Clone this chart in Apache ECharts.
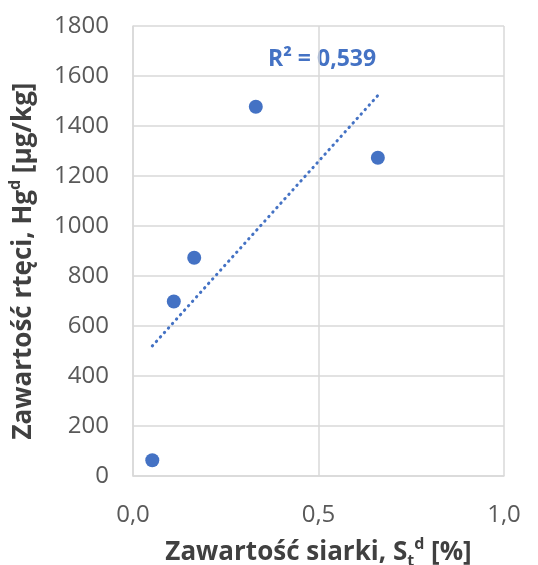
<!DOCTYPE html>
<html>
<head>
<meta charset="utf-8">
<script src="https://cdn.jsdelivr.net/npm/echarts@6/dist/echarts.min.js"></script>
<style>
  html, body { margin: 0; padding: 0; background: #fff; }
  #chartBox { width: 538px; height: 565px; }
</style>
</head>
<body>
<div id="chartBox"></div>
<script>
// sulphur content [%] vs mercury content [µg/kg]
var sulphur = [0.052, 0.11, 0.165, 0.331, 0.66];
var mercury = [63, 698, 873, 1477, 1273];
// linear trendline ends
var trendX = [0.052, 0.663];
var trendY = [520, 1527];
var rSquared = '0,539';

var blue = '#4472C4';
var gridColor = '#d9d9d9';
var fontName = '"Open Sans", "Liberation Sans", sans-serif';

function pairs(xs, ys) {
    var out = [];
    for (var i = 0; i < xs.length; i++) {
        out.push([xs[i], ys[i]]);
    }
    return out;
}

function bindScatter() {
    var chart = echarts.init(document.getElementById('chartBox'));
    var option = {
        animation: false,
        textStyle: { fontFamily: fontName },
        grid: { left: 133, right: 34, top: 26, bottom: 89, containLabel: false, outerBoundsMode: 'none' },
        xAxis: {
            type: 'value',
            min: 0,
            max: 1,
            interval: 0.5,
            axisLine: { lineStyle: { color: gridColor, width: 1.5 } },
            axisTick: { show: false },
            splitLine: { lineStyle: { color: gridColor, width: 1.5 } },
            axisLabel: {
                color: '#595959',
                fontSize: 24,
                margin: 27,
                formatter: function (v) { return v.toFixed(1).replace('.', ','); }
            },
            name: '{b|Zawartość siarki, S}{sub|t}{sup|d}{b| [%]}',
            nameLocation: 'middle',
            nameGap: 64,
            nameTextStyle: {
                rich: {
                    b: { fontSize: 26, fontWeight: 'bold', color: '#404040', fontFamily: fontName },
                    sub: { fontSize: 16, fontWeight: 'bold', color: '#404040', fontFamily: fontName, verticalAlign: 'bottom', padding: [0, 0, -3, 0] },
                    sup: { fontSize: 16, fontWeight: 'bold', color: '#404040', fontFamily: fontName, verticalAlign: 'top', padding: [-4, 0, 0, 0] }
                }
            }
        },
        yAxis: {
            type: 'value',
            min: 0,
            max: 1800,
            interval: 200,
            axisLine: { show: true, lineStyle: { color: gridColor, width: 1.5 } },
            axisTick: { show: false },
            splitLine: { lineStyle: { color: gridColor, width: 1.5 } },
            axisLabel: { color: '#595959', fontSize: 24, margin: 24, formatter: function (v) { return String(v); } },
            name: '{b|Zawartość rtęci, Hg}{sup|d}{b| [µg/kg]}',
            nameLocation: 'middle',
            nameRotate: 90,
            nameGap: 96,
            nameTextStyle: {
                padding: [0, 20, 0, 0],
                rich: {
                    b: { fontSize: 26, fontWeight: 'bold', color: '#404040', fontFamily: fontName },
                    sup: { fontSize: 16, fontWeight: 'bold', color: '#404040', fontFamily: fontName, verticalAlign: 'top', padding: [-4, 0, 0, 0] }
                }
            }
        },
        graphic: [{
            type: 'text',
            left: 268,
            top: 48,
            style: {
                text: 'R² = ' + rSquared,
                fill: blue,
                font: 'bold 23px ' + fontName
            }
        }],
        series: [
            {
                type: 'scatter',
                data: pairs(sulphur, mercury),
                symbolSize: 14,
                itemStyle: { color: blue, opacity: 1 }
            },
            {
                type: 'line',
                data: pairs(trendX, trendY),
                symbol: 'none',
                lineStyle: { color: blue, width: 3, type: [0.5, 5.5], cap: 'round' }
            }
        ]
    };
    chart.setOption(option);
}
bindScatter();
</script>
</body>
</html>
